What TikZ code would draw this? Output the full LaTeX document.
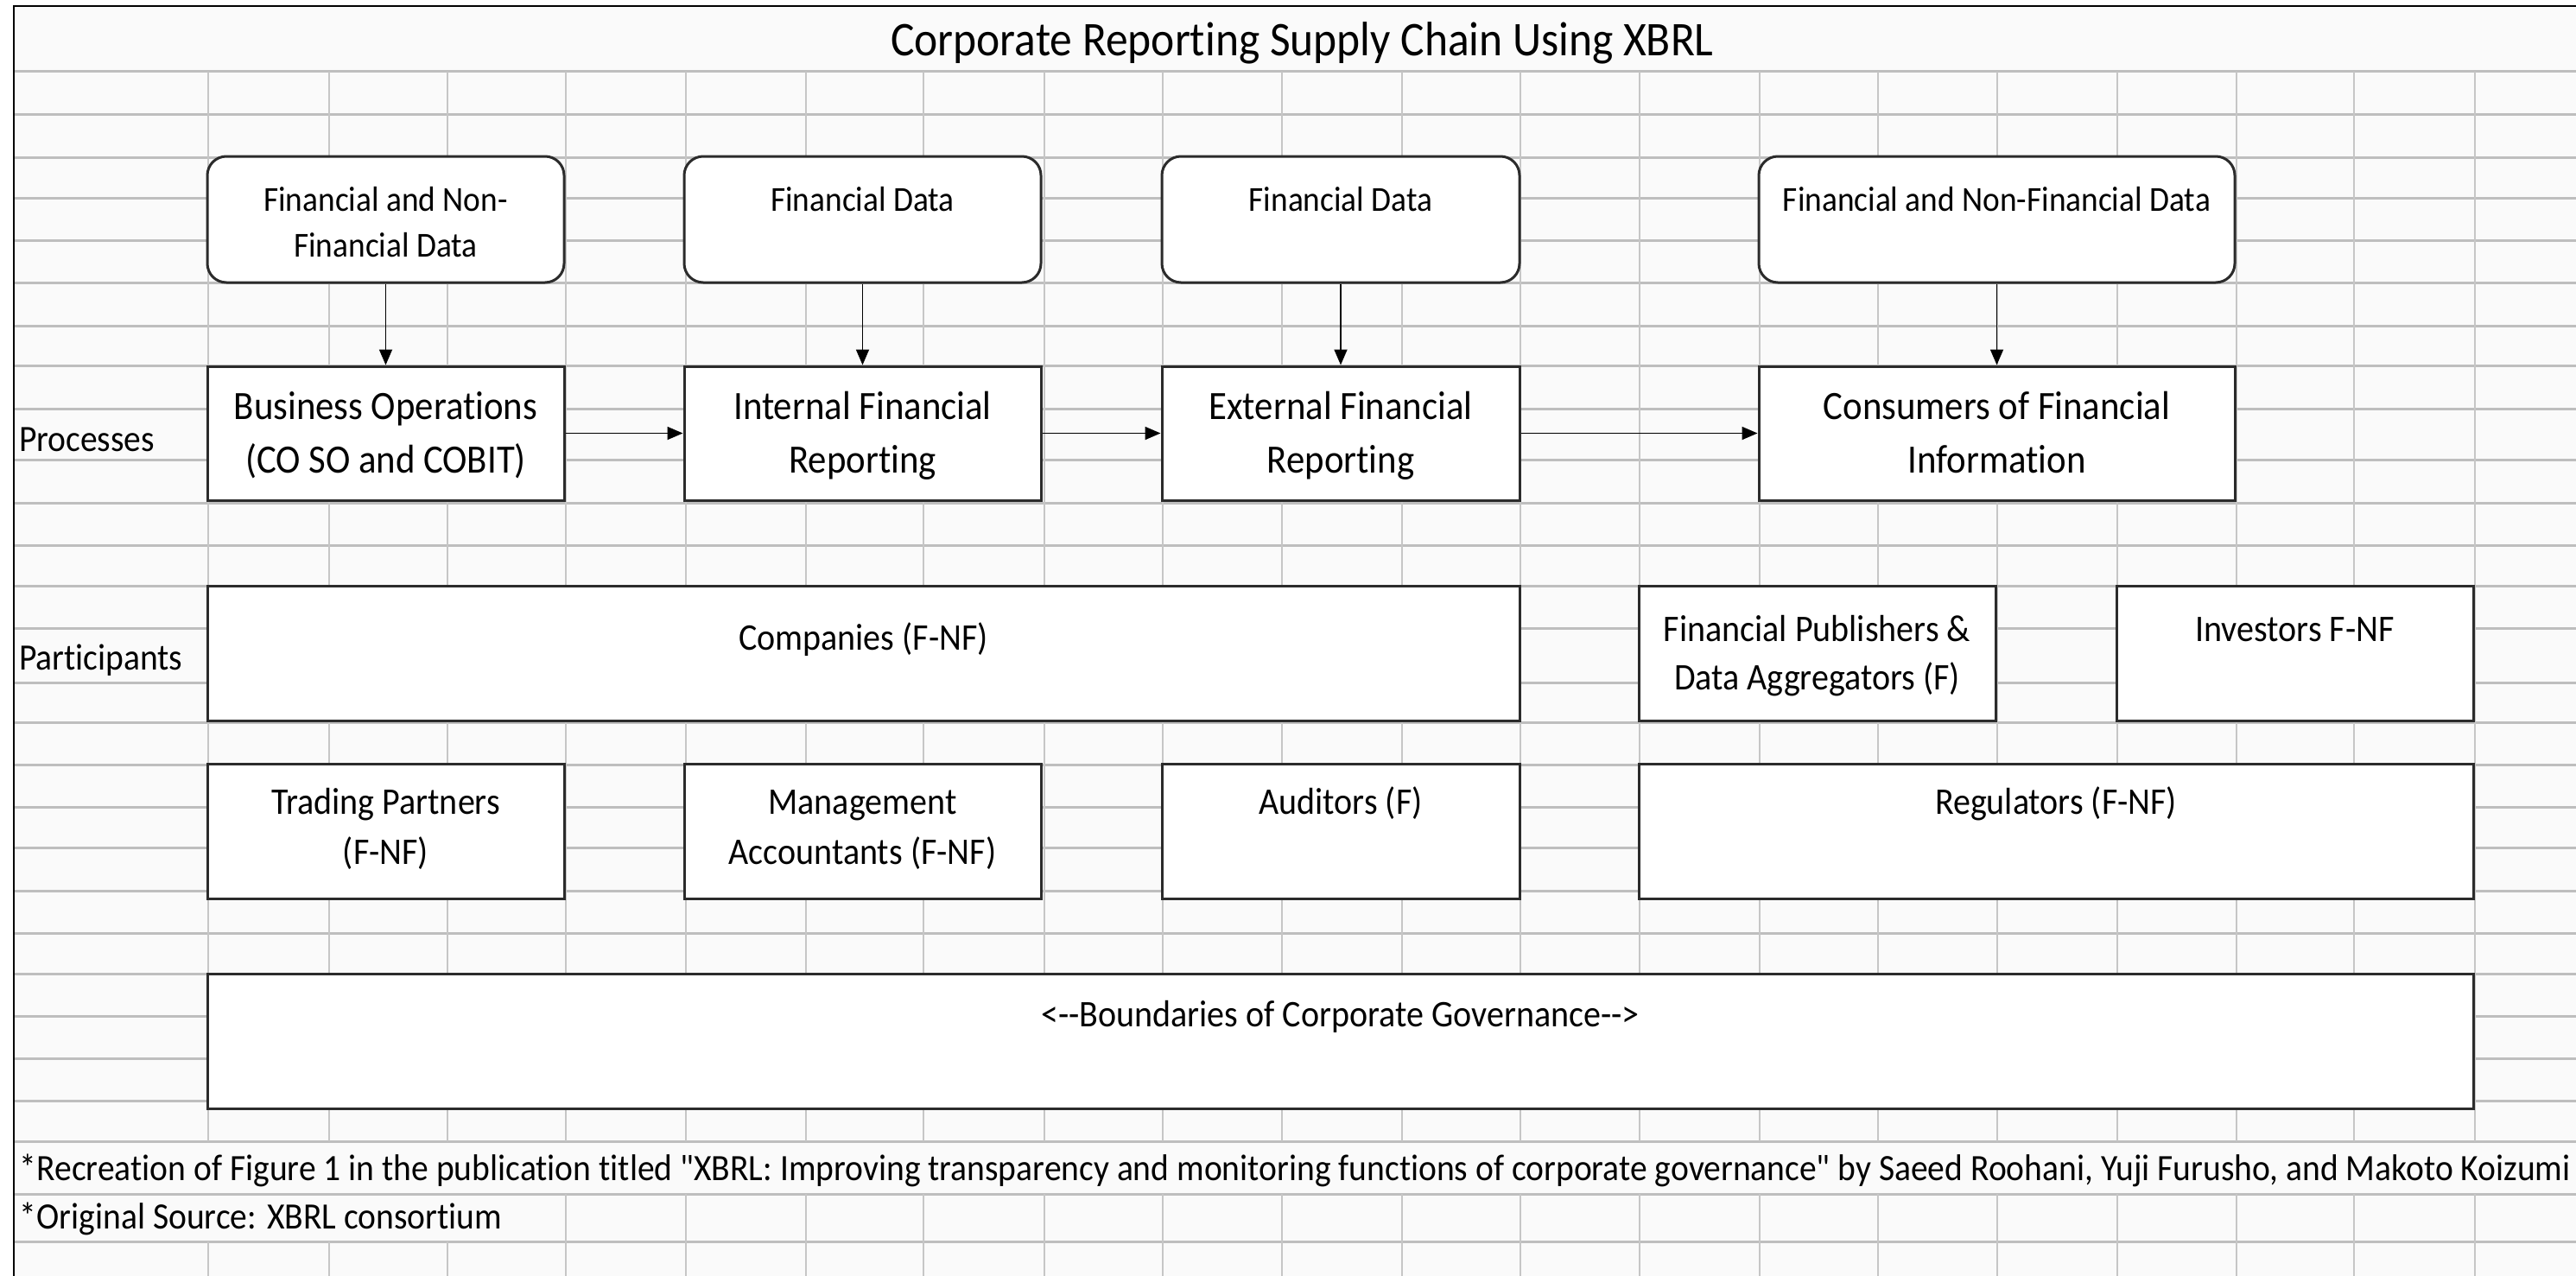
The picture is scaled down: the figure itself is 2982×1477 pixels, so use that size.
\documentclass[tikz,border=0pt]{standalone}
\usepackage{fontspec}
\setmainfont{Carlito}[FakeStretch=0.92, Ligatures={TeXOff,CommonOff}]
\usetikzlibrary{arrows.meta}
\definecolor{cellbg}{HTML}{FAFAFA}
\definecolor{gridh}{HTML}{BEBEBE}
\definecolor{gridv}{HTML}{C6C6C6}
\definecolor{boxc}{HTML}{2B2B2B}
\newcommand\fsz[1]{\fontsize{#1}{#1}\selectfont}
\begin{document}
\begin{tikzpicture}[x=1pt,y=-1pt,
 gh/.style={gridh, line width=3pt},
 gv/.style={gridv, line width=2pt},
 databox/.style={draw=boxc, line width=3pt, fill=white, rounded corners=22pt, inner sep=0pt, minimum height=146pt},
 sqbox/.style={draw=boxc, line width=3pt, fill=white, inner sep=0pt, minimum height=156pt},
 txt/.style={inner sep=0pt, outer sep=0pt, anchor=base, text=black},
 ttl/.style={txt, font=\fsz{56}},
 dtx/.style={txt, font=\fsz{40.6}},
 ptx/.style={txt, font=\fsz{46.5}},
 qtx/.style={txt, font=\fsz{43.5}},
 lbl/.style={txt, anchor=base west, font=\fsz{43}},
 arr/.style={line width=1.8pt, -{Triangle[width=15pt,length=18pt]}},
]
\useasboundingbox (0,0) rectangle (2982,1477);
\fill[white] (0,0) rectangle (2982,1477);
\fill[cellbg] (16,7) rectangle (2982,1477);
% grid
\foreach \y in {83,133,182,229,278,327,377,423,473,532,582,631,678,727,790,836,885,934,981,1031,1080,1127,1176,1225,1274,1321,1382,1437}
  \draw[gh] (16,\y) -- (2982,\y);
\foreach \x in {241,381,518,655,794,933,1069,1209,1346,1484,1623,1760,1898,2037,2174,2312,2451,2589,2725,2865}
  {\draw[gv] (\x,83) -- (\x,1321); \draw[gv] (\x,1437) -- (\x,1477);}
\foreach \x in {655,794,933,1069,1209,1346,1484,1623,1760,1898,2037,2174,2312,2451,2589,2725,2865}
  \draw[gv] (\x,1382) -- (\x,1437);
\draw[black, line width=2.5pt] (16,1477) -- (16,7) -- (2982,7);

% title
\node[ttl] (title) at (1507.5,65) {Corporate Reporting Supply Chain Using XBRL};

% data boxes
\node[databox, minimum width=413pt] (d1) at (446.5,254) {};
\node[databox, minimum width=413pt] (d2) at (998.5,254) {};
\node[databox, minimum width=414pt] (d3) at (1552,254) {};
\node[databox, minimum width=551pt] (d4) at (2311.5,254) {};
\node[dtx] (d1a) at (446.5,244) {Financial and Non-};
\node[dtx] (d1b) at (446.5,297) {Financial Data};
\node[dtx] (d2a) at (998.5,244) {Financial Data};
\node[dtx] (d3a) at (1552,244) {Financial Data};
\node[dtx] (d4a) at (2311.5,244) {Financial and Non-Financial Data};

% process boxes
\node[sqbox, minimum width=413pt, minimum height=155pt] (p1) at (446.5,501.5) {};
\node[sqbox, minimum width=413pt, minimum height=155pt] (p2) at (998.5,501.5) {};
\node[sqbox, minimum width=414pt, minimum height=155pt] (p3) at (1552,501.5) {};
\node[sqbox, minimum width=551pt, minimum height=155pt] (p4) at (2311.5,501.5) {};
\node[ptx] (p1a) at (446.5,485) {Business Operations};
\node[ptx] (p1b) at (446.5,547) {(CO SO and COBIT)};
\node[ptx] (p2a) at (998.5,485) {Internal Financial};
\node[ptx] (p2b) at (998.5,547) {Reporting};
\node[ptx] (p3a) at (1552,485) {External Financial};
\node[ptx] (p3b) at (1552,547) {Reporting};
\node[ptx] (p4a) at (2311.5,485) {Consumers of Financial};
\node[ptx] (p4b) at (2311.5,547) {Information};

% row labels
\node[lbl] (lproc) at (22,522) {Processes};
\node[lbl] (lpart) at (22,775) {Participants};

% participants row 1
\node[sqbox, minimum width=1519pt] (co) at (999.5,756) {};
\node[sqbox, minimum width=413pt] (fp) at (2103.5,756) {};
\node[sqbox, minimum width=413pt] (iv) at (2656.5,756) {};
\node[qtx] (coa) at (999.5,752) {Companies (F-NF)};
\node[qtx] (fpa) at (2103.5,742) {Financial Publishers \&};
\node[qtx] (fpb) at (2103.5,798) {Data Aggregators (F)};
\node[qtx] (iva) at (2656.5,742) {Investors F-NF};

% participants row 2
\node[sqbox, minimum width=413pt] (tp) at (446.5,962) {};
\node[sqbox, minimum width=413pt] (ma) at (998.5,962) {};
\node[sqbox, minimum width=414pt] (au) at (1552,962) {};
\node[sqbox, minimum width=966pt] (rg) at (2380,962) {};
\node[qtx] (tpa) at (446.5,942) {Trading Partners};
\node[qtx] (tpb) at (446.5,1000) {(F-NF)};
\node[qtx] (maa) at (998.5,942) {Management};
\node[qtx] (mab) at (998.5,1000) {Accountants (F-NF)};
\node[qtx] (aua) at (1552,942) {Auditors (F)};
\node[qtx] (rga) at (2380,942) {Regulators (F-NF)};

% boundaries
\node[sqbox, minimum width=2623pt] (bd) at (1551.5,1205) {};
\node[qtx] (bda) at (1551.5,1188) {<-{}-Boundaries of Corporate Governance-{}->};

% footnotes
\node[lbl] (fn1) at (23,1366) {*Recreation of Figure 1 in the publication titled \symbol{34}XBRL: Improving transparency and monitoring functions of corporate governance\symbol{34} by Saeed Roohani, Yuji Furusho, and Makoto Koizumi};
\node[lbl] (fn2) at (23,1422) {*Original Source: XBRL consortium};

% arrows
\draw[arr] (d1.south) -- (p1.north);
\draw[arr] (d2.south) -- (p2.north);
\draw[arr] (d3.south) -- (p3.north);
\draw[arr] (d4.south) -- (p4.north);
\draw[arr] (p1.east) -- (p2.west);
\draw[arr] (p2.east) -- (p3.west);
\draw[arr] (p3.east) -- (p4.west);
\end{tikzpicture}
\end{document}
